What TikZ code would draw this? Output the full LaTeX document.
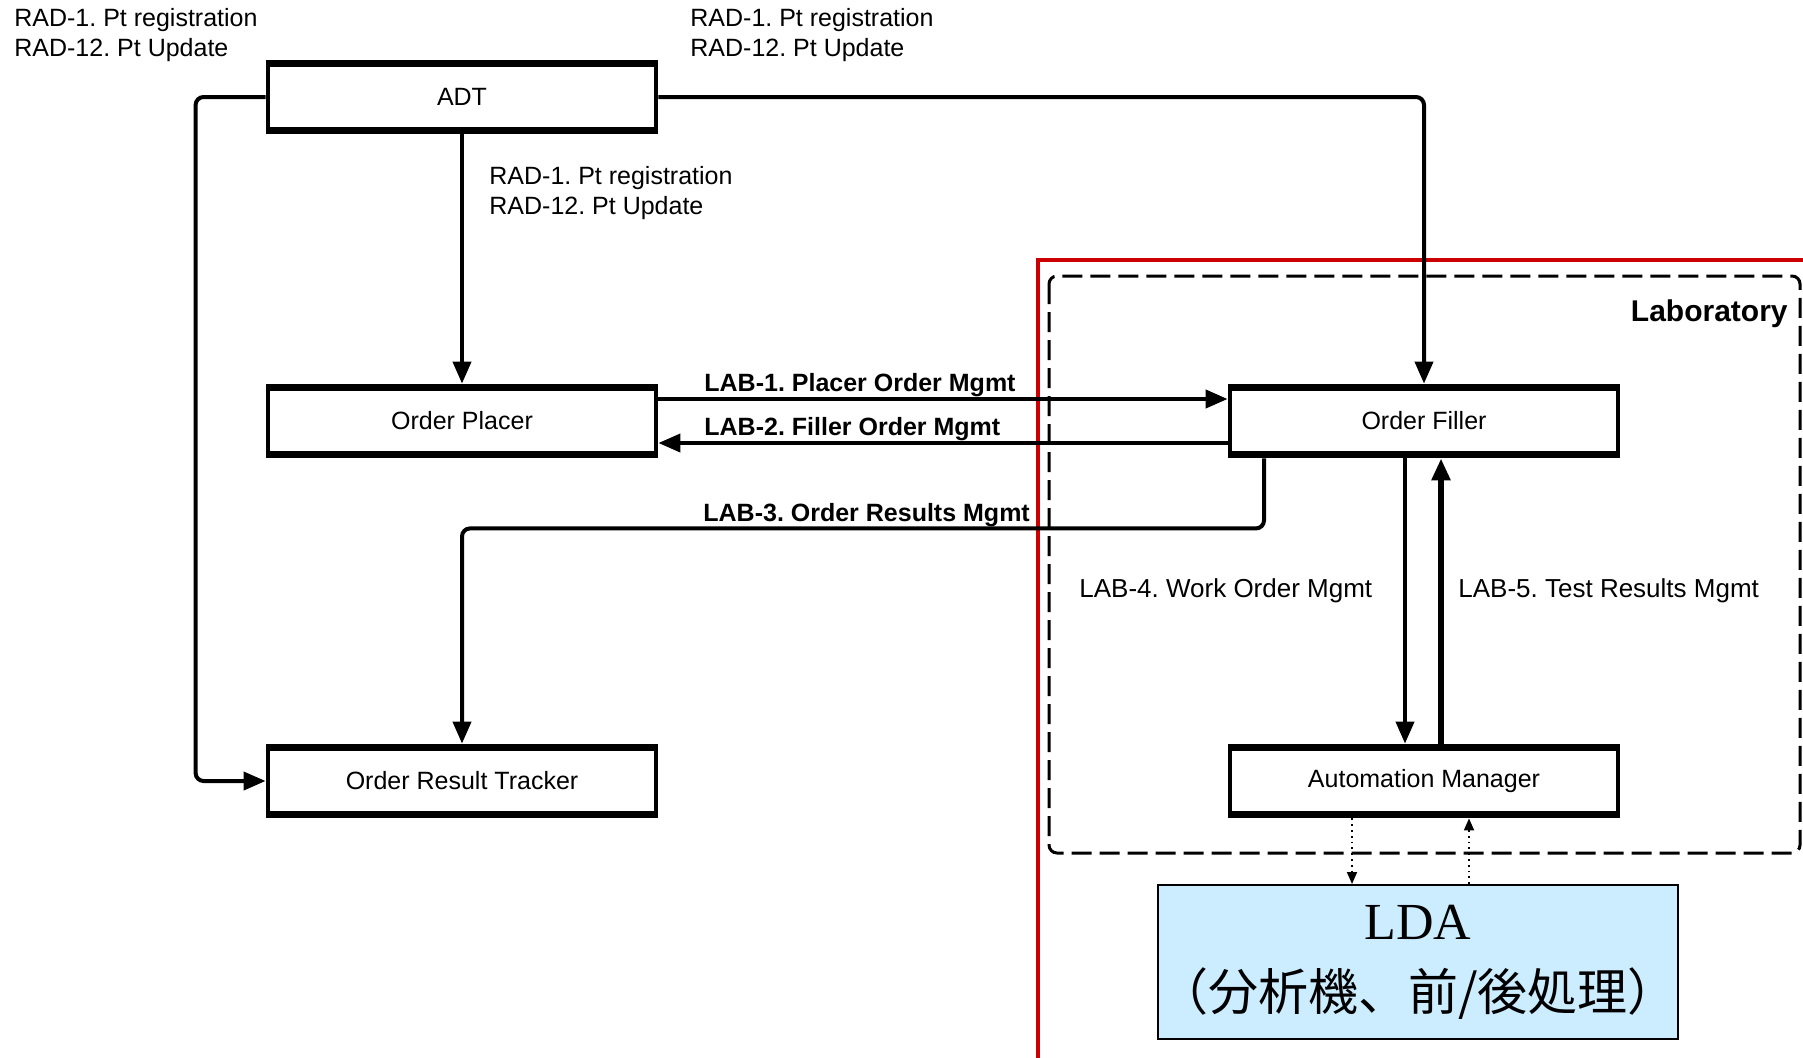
\documentclass[tikz,border=0pt]{standalone}
\usepackage{fontspec}
\setmainfont{Liberation Sans}
\newfontfamily\cjkfont{Noto Sans CJK JP}
\newfontfamily\seriffont{Liberation Serif}
\usetikzlibrary{arrows.meta,positioning,calc}
\definecolor{labred}{HTML}{CC0000}
\definecolor{ldablue}{HTML}{CCECFF}
\frenchspacing

\begin{document}
\begin{tikzpicture}[
    x=0.5pt, y=-0.5pt,
    actor/.style={draw, line width=2.4pt, minimum width=194pt, minimum height=35pt, inner sep=0pt, font=\fontsize{12.5}{15}\selectfont,
        path picture={\fill (path picture bounding box.north west) rectangle ([yshift=-2.4pt]path picture bounding box.north east);
                      \fill (path picture bounding box.south west) rectangle ([yshift=2.4pt]path picture bounding box.south east);}},
    msg/.style={font=\fontsize{12.5}{15}\selectfont\bfseries, inner sep=0pt},
    note/.style={font=\fontsize{12.5}{15}\selectfont, align=left, inner sep=0pt},
    arr/.style={-{Triangle[length=11pt,width=9pt]}, line width=2pt, rounded corners=4pt},
    dotarr/.style={-{Triangle[length=6pt,width=5pt]}, line width=0.9pt, dotted}
]
\useasboundingbox (0,0) rectangle (1803,1057);

% frames
\draw[labred, line width=2.3pt] (1815,260) -- (1038,260) -- (1038,1070);
\draw[line width=1.5pt, dash pattern=on 10pt off 4pt, rounded corners=4pt] (1049,276) rectangle (1800,853);
\node[anchor=base east, font=\fontsize{15}{18}\selectfont\bfseries, inner sep=0pt] (labname) at (1788,321) {Laboratory};

% actors
\node[actor] (adt) at (462,97) {ADT};
\node[actor] (placer) at (462,421) {Order Placer};
\node[actor] (tracker) at (462,781) {Order Result Tracker};
\node[actor] (filler) at (1424,421) {Order Filler};
\node[actor] (am) at (1424,781) {Automation Manager};
\node[draw, fill=ldablue, line width=1pt, minimum width=260pt, minimum height=77pt, align=center, inner sep=0pt] (lda) at (1418,962)
    {{\seriffont\fontsize{26}{28}\selectfont LDA}\\[13pt]{\cjkfont\fontsize{25}{28}\selectfont （分析機、前/後処理）}};

% labels
\node[note, anchor=north west] (radl) at (14,8) {RAD-1. Pt registration\\RAD-12. Pt Update};
\node[note, anchor=north west] (radr) at (690,8) {RAD-1. Pt registration\\RAD-12. Pt Update};
\node[note, anchor=north west] (radm) at (489,166) {RAD-1. Pt registration\\RAD-12. Pt Update};
\node[msg, anchor=base west] (lab1) at (704,391) {LAB-1. Placer Order Mgmt};
\node[msg, anchor=base west] (lab2) at (704,435) {LAB-2. Filler Order Mgmt};
\node[msg, anchor=base west] (lab3) at (703,521) {LAB-3. Order Results Mgmt};
\node[note, anchor=base west, font=\fontsize{13}{15}\selectfont] (lab4) at (1079,597) {LAB-4. Work Order Mgmt};
\node[note, anchor=base west, font=\fontsize{13}{15}\selectfont] (lab5) at (1458,597) {LAB-5. Test Results Mgmt};

% transactions
\draw[arr] (adt) -- (placer);
\draw[arr] (adt.west) -- ++(-70,0) |- (tracker.west);
\draw[arr] (adt.east) -| (filler.north);
\draw[arr] ([yshift=11pt]placer.east) -- ([yshift=11pt]filler.west);
\draw[arr] ([yshift=-11pt]filler.west) -- ([yshift=-11pt]placer.east);
\draw[arr] ([xshift=-80pt]filler.south) -- ++(0,70) -| (tracker.north);
\draw[arr] ([xshift=-9.5pt]filler.south) -- ([xshift=-9.5pt]am.north);
\draw[arr, line width=3pt] ([xshift=8.5pt]am.north) -- ([xshift=8.5pt]filler.south);
\draw[dotarr] ([xshift=-36pt]am.south) -- ([xshift=-36pt]am.south |- lda.north);
\draw[dotarr] ([xshift=22.5pt]am.south |- lda.north) -- ([xshift=22.5pt]am.south);
\end{tikzpicture}
\end{document}
